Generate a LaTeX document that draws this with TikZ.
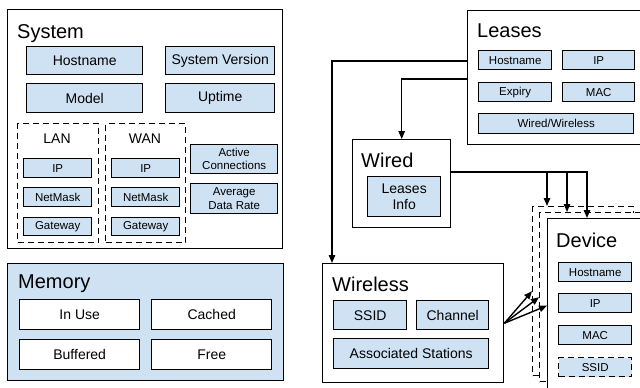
\documentclass[tikz,border=0pt]{standalone}
\usepackage{fontspec}
\setmainfont{Liberation Sans}
\usetikzlibrary{arrows.meta}
\definecolor{itemblue}{RGB}{207,226,243}

\begin{document}
\begin{tikzpicture}[x=1pt,y=-1pt,>={Triangle[length=8pt,width=6.5pt]},
  grp/.style={draw,line width=1.4pt,fill=white,anchor=north west,inner sep=0pt},
  grpdash/.style={grp,dash pattern=on 6pt off 4pt},
  itm/.style={draw,line width=1.4pt,fill=itemblue,anchor=north west,inner sep=0pt,align=center,font=\fontsize{14}{16}\selectfont},
  sml/.style={itm,font=\fontsize{11.5}{13.3}\selectfont},
  ttl/.style={anchor=base west,inner sep=0pt,font=\fontsize{20}{24}\selectfont},
  lbl/.style={inner sep=0pt,font=\fontsize{14}{16}\selectfont},
  conn/.style={->,line width=1.4pt}]
  \useasboundingbox (0,0) rectangle (640,388);

  \node[grp,minimum width=275pt,minimum height=239pt] (system) at (7,9) {};
  \node[ttl] (systemT) at (17,38) {System};
  \node[itm,minimum width=116pt,minimum height=28pt] (sysHost) at (26,46) {Hostname};
  \node[itm,minimum width=116pt,minimum height=29pt] (sysModel) at (26,83) {Model};
  \node[itm,minimum width=109pt,minimum height=28pt] (sysVer) at (165,46) {System Version};
  \node[itm,minimum width=109pt,minimum height=29pt] (sysUp) at (165,83) {Uptime};
  \node[grpdash,minimum width=81pt,minimum height=119pt] (lan) at (17,123) {};
  \node[grpdash,minimum width=80pt,minimum height=119pt] (wan) at (105,123) {};
  \node[lbl] (lanT) at (57,139) {LAN};
  \node[lbl] (wanT) at (145,139) {WAN};
  \node[sml,minimum width=68pt,minimum height=19pt] (lanIP) at (23,158) {IP};
  \node[sml,minimum width=68pt,minimum height=19pt] (lanMask) at (23,187) {NetMask};
  \node[sml,minimum width=68pt,minimum height=18pt] (lanGw) at (23,217) {Gateway};
  \node[sml,minimum width=68pt,minimum height=19pt] (wanIP) at (111,158) {IP};
  \node[sml,minimum width=68pt,minimum height=19pt] (wanMask) at (111,187) {NetMask};
  \node[sml,minimum width=68pt,minimum height=18pt] (wanGw) at (111,217) {Gateway};
  \node[sml,minimum width=87pt,minimum height=29pt] (active) at (190,144) {Active\\Connections};
  \node[sml,minimum width=87pt,minimum height=30pt] (rate) at (190,183) {Average\\Data Rate};

  \node[grp,fill=itemblue,minimum width=276pt,minimum height=117pt] (memory) at (7,263) {};
  \node[ttl] (memoryT) at (18,288) {Memory};
  \node[itm,fill=white,minimum width=120pt,minimum height=30pt] (inuse) at (19,299) {In Use};
  \node[itm,fill=white,minimum width=120pt,minimum height=30pt] (cached) at (151,299) {Cached};
  \node[itm,fill=white,minimum width=120pt,minimum height=30pt] (buffered) at (19,339) {Buffered};
  \node[itm,fill=white,minimum width=120pt,minimum height=30pt] (free) at (151,339) {Free};

  \node[grp,minimum width=185pt,minimum height=134pt] (leases) at (467,10) {};
  \node[ttl] (leasesT) at (477,37) {Leases};
  \node[sml,minimum width=73pt,minimum height=19pt] (lsHost) at (478,50) {Hostname};
  \node[sml,minimum width=72pt,minimum height=19pt] (lsIP) at (562,50) {IP};
  \node[sml,minimum width=73pt,minimum height=19pt] (lsExp) at (478,82) {Expiry};
  \node[sml,minimum width=72pt,minimum height=19pt] (lsMac) at (562,82) {MAC};
  \node[sml,minimum width=155pt,minimum height=20pt] (lsWw) at (478,113) {Wired/Wireless};

  \node[grp,minimum width=98pt,minimum height=88pt] (wired) at (352,139) {};
  \node[ttl] (wiredT) at (361,167) {Wired};
  \node[itm,minimum width=73pt,minimum height=40pt] (wdInfo) at (367,176) {Leases\\Info};

  \node[grp,minimum width=181pt,minimum height=119pt] (wireless) at (322,263) {};
  \node[ttl] (wirelessT) at (332,291) {Wireless};
  \node[itm,minimum width=73pt,minimum height=29pt] (wlSsid) at (333,300) {SSID};
  \node[itm,minimum width=72pt,minimum height=29pt] (wlChan) at (416,300) {Channel};
  \node[itm,minimum width=155pt,minimum height=30pt] (wlAssoc) at (333,338) {Associated Stations};

  \node[grpdash,minimum width=101pt,minimum height=169pt] (devA) at (532,206) {};
  \node[grpdash,minimum width=101pt,minimum height=169pt] (devB) at (539,212) {};
  \node[grp,minimum width=110pt,minimum height=174pt] (device) at (547,218) {};
  \node[ttl] (deviceT) at (556,247) {Device};
  \node[sml,minimum width=73pt,minimum height=19pt] (dvHost) at (558,262) {Hostname};
  \node[sml,minimum width=73pt,minimum height=19pt] (dvIP) at (558,293) {IP};
  \node[sml,minimum width=73pt,minimum height=19pt] (dvMac) at (558,325) {MAC};
  \node[sml,dash pattern=on 6pt off 4pt,minimum width=73pt,minimum height=19pt] (dvSsid) at (558,357) {SSID};

  \coordinate (lsOutA) at (467,61);
  \coordinate (lsOutB) at (467,79);
  \coordinate (wdOut) at (450,172);
  \draw[conn] (lsOutA) -| ([xshift=10pt]wireless.north west);
  \draw[conn] (lsOutB) -| (wired.north);
  \draw[conn] (wdOut) -| ([xshift=15pt]devA.north west);
  \draw[conn] (wdOut) -| ([xshift=28pt]devB.north west);
  \draw[conn] (wdOut) -| ([xshift=40pt]device.north west);
  \draw[conn] (wireless.east) -- (devA.west);
  \draw[conn] (wireless.east) -- (devB.west);
  \draw[conn] (wireless.east) -- (device.west);
\end{tikzpicture}
\end{document}
